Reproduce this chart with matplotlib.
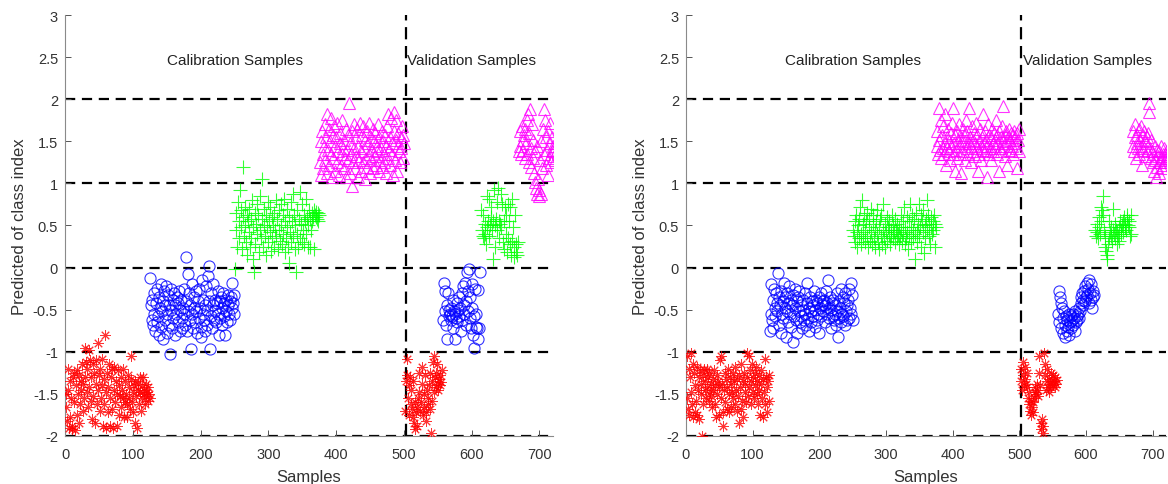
import numpy as np
import matplotlib
matplotlib.use("Agg")
import matplotlib.pyplot as plt

# ---------------- data ----------------
# Left panel, calibration (125 samples per class)
L_red_cal = [-1.65, -1.50, -1.82, -1.20, -1.45, -1.90, -1.35, -1.78, -1.55, -1.92,
             -1.88, -1.30, -1.60, -1.25, -1.93, -1.40, -1.75, -1.22, -1.50, -1.85,
             -1.28, -1.62, -1.35, -1.45, -1.15, -1.70, -1.38, -1.55, -0.95, -1.30,
             -1.12, -1.48, -1.20, -1.65, -0.98, -1.42, -1.10, -1.58, -1.30, -1.80,
             -1.15, -1.52, -1.25, -1.84, -1.38, -1.10, -1.62, -0.90, -1.45, -1.28,
             -1.70, -1.20, -1.55, -1.08, -1.40, -1.88, -1.32, -1.62, -0.80, -1.48,
             -1.90, -1.25, -1.72, -1.42, -1.15, -1.88, -1.55, -1.30, -1.68, -1.20,
             -1.90, -1.45, -1.18, -1.60, -1.35, -1.88, -1.50, -1.22, -1.75, -1.40,
             -1.52, -1.30, -1.65, -1.45, -1.55, -1.20, -1.78, -1.60, -1.35, -1.50,
             -1.62, -1.78, -1.28, -1.55, -1.42, -1.68, -1.32, -1.05, -1.60, -1.48,
             -1.72, -1.40, -1.35, -1.85, -1.52, -1.90, -1.45, -1.38, -1.62, -1.30,
             -1.48, -1.70, -1.40, -1.55, -1.30, -1.50, -1.45, -1.62, -1.38, -1.52,
             -1.48, -1.58, -1.42, -1.50, -1.55]
L_blue_cal = [-0.12, -0.45, -0.62, -0.38, -0.68, -0.30, -0.55, -0.75, -0.42, -0.65,
              -0.25, -0.58, -0.80, -0.35, -0.48, -0.70, -0.20, -0.52, -0.85, -0.40,
              -0.28, -0.62, -0.45, -0.22, -0.78, -0.55, -0.32, -0.68, -0.45, -1.03,
              -0.25, -0.50, -0.72, -0.38, -0.60, -0.30, -0.45, -0.80, -0.55, -0.35,
              -0.65, -0.42, -0.28, -0.75, -0.50, -0.38, -0.60, -0.72, -0.48, -0.25,
              -0.55, -0.68, 0.13, -0.40, -0.75, -0.08, -0.52, -0.30, -0.62, -0.45,
              -0.97, -0.20, -0.55, -0.72, -0.35, -0.48, -0.65, -0.28, -0.52, -0.78,
              -0.40, -0.60, -0.25, -0.48, -0.70, -0.82, -0.15, -0.55, -0.38, -0.62,
              -0.75, -0.45, -0.22, -0.68, -0.50, -0.10, 0.02, -0.40, -0.97, -0.58,
              -0.30, -0.72, -0.45, -0.20, -0.62, -0.38, -0.52, -0.65, -0.42, -0.28,
              -0.55, -0.80, -0.40, -0.60, -0.35, -0.68, -0.48, -0.30, -0.58, -0.42,
              -0.80, -0.38, -0.52, -0.65, -0.32, -0.45, -0.55, -0.40, -0.62, -0.35,
              -0.48, -0.18, -0.42, -0.32, -0.55]
L_green_cal = [-0.02, 0.45, 0.65, 0.25, 0.78, 0.35, 0.55, 0.92, 0.48, 0.68,
               0.22, 0.60, 1.20, 0.38, 0.72, 0.50, 0.30, 0.62, 0.15, 0.55,
               0.42, 0.70, 0.25, 0.58, 0.35, 0.80, 0.10, 0.48, -0.05, 0.65,
               0.28, 0.52, 0.75, 0.40, 0.62, 0.18, 0.45, 0.85, 0.35, 0.58,
               1.05, 0.25, 0.50, 0.70, 0.38, 0.62, 0.15, 0.48, 0.78, 0.30,
               0.55, 0.42, 0.72, 0.20, 0.60, 0.35, 0.50, 0.65, 0.25, 0.45,
               0.80, 0.38, 0.58, 0.22, 0.68, 0.45, 0.32, 0.75, 0.50, 0.28,
               0.62, 0.40, 0.82, 0.18, 0.55, 0.35, 0.70, 0.48, 0.25, 0.60,
               0.05, 0.42, 0.78, 0.30, 0.55, 0.88, 0.38, 0.62, 0.22, 0.50,
               -0.05, 0.40, 0.68, 0.25, 0.58, 0.90, 0.35, 0.52, 0.75, 0.30,
               0.45, 0.62, 0.28, 0.55, 0.82, 0.40, 0.60, 0.25, 0.50, 0.68,
               0.58, 0.25, 0.45, 0.65, 0.55, 0.60, 0.68, 0.22, 0.62, 0.66,
               0.60, 0.58, 0.65, 0.55, 0.63]
L_mag_cal = [1.25, 1.50, 1.10, 1.62, 1.35, 1.18, 1.45, 1.70, 1.28, 1.55,
             1.82, 1.12, 1.40, 1.65, 1.22, 1.50, 1.78, 1.35, 1.08, 1.58,
             1.30, 1.68, 1.45, 1.15, 1.55, 1.25, 1.72, 1.38, 1.10, 1.48,
             1.60, 1.22, 1.35, 1.75, 1.42, 1.18, 1.52, 1.30, 1.65, 1.08,
             1.40, 1.58, 1.28, 1.95, 1.12, 1.48, 1.35, 0.97, 1.62, 1.25,
             1.70, 1.42, 1.18, 1.55, 1.32, 1.65, 1.08, 1.45, 1.28, 1.72,
             1.38, 1.15, 1.58, 1.25, 1.68, 1.42, 1.05, 1.52, 1.30, 1.62,
             1.20, 1.48, 1.35, 1.72, 1.12, 1.55, 1.28, 1.40, 1.65, 1.18,
             1.50, 1.32, 1.60, 1.22, 1.45, 1.38, 1.70, 1.15, 1.55, 1.28,
             1.42, 1.62, 1.20, 1.50, 1.35, 1.25, 1.58, 1.45, 1.12, 1.68,
             1.30, 1.82, 1.40, 1.55, 1.22, 1.78, 1.48, 1.35, 1.10, 1.62,
             1.85, 1.28, 1.52, 1.75, 1.15, 1.45, 1.60, 1.38, 1.25, 1.55,
             1.42, 1.68, 1.30, 1.58, 1.48]
# Left panel, validation (55 samples per class)
L_red_val = [-1.70, -1.35, -1.28, -1.08, -1.55, -1.40, -1.75, -1.30, -1.62, -1.45,
             -1.68, -1.35, -1.78, -1.85, -1.60, -1.92, -1.72, -1.65, -1.88, -1.55,
             -1.48, -1.25, -1.70, -1.60, -1.38, -1.18, -1.75, -1.50, -1.65, -1.28,
             -1.72, -1.82, -1.45, -1.62, -1.55, -1.40, -1.68, -1.25, -1.97, -1.58,
             -1.35, -1.12, -1.48, -1.05, -1.30, -1.42, -1.25, -1.15, -1.38, -1.45,
             -1.32, -1.40, -1.28, -1.36, -1.22]
L_blue_val = [-0.62, -0.18, -0.52, -0.28, -0.68, -0.85, -0.45, -0.30, -0.58, -0.50,
              -0.55, -0.62, -0.48, -0.58, -0.38, -0.72, -0.52, -0.85, -0.55, -0.60,
              -0.42, -0.65, -0.50, -0.35, -0.58, -0.48, -0.75, -0.30, -0.62, -0.22,
              -0.45, -0.55, -0.18, -0.68, -0.40, -0.05, -0.52, -0.28, -0.02, -0.60,
              -0.35, -0.72, -0.48, -0.20, -0.80, -0.58, -0.95, -0.25, -0.70, -0.55,
              -0.72, -0.27, -0.85, -0.72, -0.05]
L_green_val = [0.68, 0.45, 0.38, 0.62, 0.35, 0.40, 0.52, 0.28, 0.85, 0.48,
               0.55, 0.82, 0.38, 0.50, 0.72, 0.60, 0.45, 0.10, 0.55, 0.92,
               0.50, 0.25, 0.58, 0.78, 0.45, 0.95, 0.55, 0.35, 0.52, 0.88,
               0.48, 0.75, 0.30, 0.55, 0.22, 0.72, 0.40, 0.62, 0.18, 0.75,
               0.35, 0.55, 0.28, 0.72, 0.15, 0.82, 0.32, 0.48, 0.25, 0.12,
               0.62, 0.28, 0.18, 0.15, 0.30]
L_mag_val = [1.38, 1.62, 1.45, 1.35, 1.68, 1.52, 1.40, 1.58, 1.30, 1.65,
             1.48, 1.75, 1.35, 1.82, 1.25, 1.60, 1.88, 1.42, 1.20, 1.70,
             1.30, 1.52, 1.12, 1.38, 1.02, 0.95, 1.45, 0.88, 1.05, 0.85,
             0.92, 1.28, 0.88, 1.50, 1.18, 1.65, 1.88, 1.35, 1.75, 1.22,
             1.55, 1.40, 1.10, 1.62, 1.30, 1.48, 1.72, 1.25, 1.38, 1.55,
             1.45, 1.32, 1.40, 1.28, 1.48]

# Right panel, calibration
R_red_cal = [-1.05, -1.55, -1.68, -1.20, -1.75, -1.30, -1.48, -1.02, -1.62, -1.15,
             -1.78, -1.25, -1.72, -1.40, -1.58, -1.18, -1.75, -1.45, -1.30, -1.80,
             -1.22, -1.50, -1.38, -2.00, -1.28, -1.62, -1.20, -1.45, -1.35, -1.55,
             -1.20, -1.42, -1.30, -1.58, -1.25, -1.48, -1.38, -1.52, -1.65, -1.32,
             -1.45, -1.22, -1.62, -1.40, -1.78, -1.28, -1.50, -1.35, -1.75, -1.42,
             -1.10, -1.55, -1.05, -1.38, -1.72, -1.88, -1.45, -1.25, -1.60, -1.32,
             -1.68, -1.42, -1.20, -1.72, -1.50, -1.30, -1.65, -1.38, -1.48, -1.25,
             -1.55, -1.35, -1.62, -1.18, -1.45, -1.70, -1.32, -1.52, -1.28, -1.85,
             -1.42, -1.68, -1.15, -1.58, -1.35, -1.78, -1.25, -1.48, -1.38, -1.60,
             -1.02, -1.30, -1.52, -1.05, -1.42, -1.22, -1.62, -1.35, -1.15, -1.48,
             -1.30, -1.55, -1.25, -1.40, -1.18, -1.50, -1.35, -1.62, -1.28, -1.45,
             -1.75, -1.38, -1.22, -1.55, -1.32, -1.78, -1.48, -1.08, -1.62, -1.30,
             -1.42, -1.72, -1.35, -1.58, -1.28]
R_blue_cal = [-0.75, -0.55, -0.20, -0.62, -0.38, -0.72, -0.25, -0.48, -0.58, -0.30,
              -0.42, -0.52, -0.07, -0.68, -0.35, -0.45, -0.78, -0.28, -0.55, -0.40,
              -0.60, -0.18, -0.48, -0.35, -0.82, -0.52, -0.30, -0.65, -0.42, -0.22,
              -0.55, -0.38, -0.70, -0.45, -0.88, -0.32, -0.58, -0.25, -0.48, -0.62,
              -0.40, -0.78, -0.35, -0.52, -0.28, -0.65, -0.45, -0.58, -0.72, -0.38,
              -0.50, -0.62, -0.30, -0.55, -0.68, -0.42, -0.18, -0.60, -0.48, -0.75,
              -0.35, -0.52, -0.65, -0.40, -0.58, -0.45, -0.28, -0.70, -0.50, -0.38,
              -0.62, -0.42, -0.55, -0.35, -0.78, -0.48, -0.30, -0.58, -0.45, -0.40,
              -0.52, -0.38, -0.65, -0.45, -0.28, -0.55, -0.42, -0.15, -0.60, -0.48,
              -0.35, -0.72, -0.50, -0.42, -0.58, -0.38, -0.62, -0.45, -0.55, -0.68,
              -0.30, -0.52, -0.82, -0.40, -0.60, -0.48, -0.25, -0.65, -0.55, -0.35,
              -0.58, -0.42, -0.68, -0.30, -0.52, -0.62, -0.45, -0.38, -0.60, -0.25,
              -0.48, -0.18, -0.55, -0.32, -0.62]
R_green_cal = [0.45, 0.38, 0.55, 0.30, 0.62, 0.42, 0.25, 0.50, 0.35, 0.58,
               0.72, 0.40, 0.28, 0.80, 0.52, 0.35, 0.62, 0.45, 0.30, 0.55,
               0.38, 0.65, 0.25, 0.48, 0.58, 0.32, 0.42, 0.70, 0.28, 0.52,
               0.62, 0.35, 0.45, 0.25, 0.55, 0.40, 0.68, 0.30, 0.48, 0.22,
               0.58, 0.38, 0.62, 0.28, 0.45, 0.75, 0.35, 0.52, 0.25, 0.42,
               0.60, 0.32, 0.48, 0.40, 0.55, 0.28, 0.45, 0.38, 0.62, 0.35,
               0.50, 0.42, 0.30, 0.58, 0.45, 0.35, 0.52, 0.40, 0.28, 0.48,
               0.38, 0.62, 0.45, 0.32, 0.55, 0.40, 0.72, 0.28, 0.48, 0.35,
               0.60, 0.42, 0.22, 0.55, 0.38, 0.75, 0.48, 0.30, 0.62, 0.45,
               0.35, 0.58, 0.40, 0.10, 0.65, 0.45, 0.30, 0.52, 0.75, 0.38,
               0.48, 0.62, 0.25, 0.55, 0.42, 0.68, 0.17, 0.50, 0.35, 0.58,
               0.80, 0.45, 0.62, 0.38, 0.52, 0.28, 0.48, 0.60, 0.40, 0.55,
               0.45, 0.62, 0.24, 0.52, 0.48]
R_mag_cal = [1.45, 1.62, 1.35, 1.90, 1.52, 1.40, 1.75, 1.30, 1.58, 1.42,
             1.68, 1.35, 1.48, 1.82, 1.22, 1.55, 1.42, 1.65, 1.38, 1.50,
             1.28, 1.60, 1.45, 1.72, 1.35, 1.90, 1.48, 1.58, 1.15, 1.40,
             1.62, 1.30, 1.52, 1.45, 1.70, 1.35, 1.55, 1.12, 1.48, 1.65,
             1.38, 1.58, 1.28, 1.50, 1.75, 1.42, 1.62, 1.35, 1.90, 1.48,
             1.55, 1.25, 1.45, 1.68, 1.38, 1.52, 1.60, 1.32, 1.48, 1.72,
             1.42, 1.58, 1.15, 1.50, 1.35, 1.65, 1.45, 1.28, 1.55, 1.40,
             1.82, 1.48, 1.62, 1.38, 1.52, 1.08, 1.45, 1.70, 1.35, 1.58,
             1.42, 1.55, 1.28, 1.65, 1.48, 1.38, 1.60, 1.52, 1.45, 1.75,
             1.35, 1.58, 1.48, 1.15, 1.62, 1.42, 1.55, 1.38, 1.68, 1.50,
             1.92, 1.45, 1.58, 1.32, 1.62, 1.48, 1.22, 1.55, 1.40, 1.65,
             1.52, 1.38, 1.60, 1.45, 1.58, 1.35, 1.62, 1.48, 1.55, 1.42,
             1.60, 1.18, 1.52, 1.65, 1.38]
# Right panel, validation
R_red_val = [-1.35, -1.20, -1.45, -1.28, -1.12, -1.40, -1.32, -1.18, -1.38, -1.25,
             -1.42, -1.55, -1.62, -1.48, -1.70, -1.58, -1.75, -1.65, -1.72, -1.60,
             -1.55, -1.48, -1.42, -1.50, -1.45, -1.38, -1.52, -1.25, -1.05, -1.40,
             -1.85, -1.92, -1.80, -1.97, -1.88, -1.02, -1.28, -1.15, -1.45, -1.35,
             -1.20, -1.42, -1.32, -1.48, -1.38, -1.25, -1.42, -1.35, -1.28, -1.40,
             -1.35, -1.30, -1.42, -1.38, -1.33]
R_blue_val = [-0.55, -0.28, -0.65, -0.35, -0.42, -0.72, -0.48, -0.60, -0.78, -0.52,
              -0.68, -0.82, -0.58, -0.75, -0.62, -0.70, -0.55, -0.80, -0.65, -0.58,
              -0.72, -0.62, -0.55, -0.68, -0.60, -0.75, -0.52, -0.65, -0.58, -0.62,
              -0.55, -0.48, -0.60, -0.52, -0.35, -0.42, -0.30, -0.38, -0.45, -0.28,
              -0.40, -0.22, -0.35, -0.18, -0.32, -0.25, -0.42, -0.15, -0.30, -0.38,
              -0.20, -0.48, -0.28, -0.35, -0.32]
R_green_val = [0.45, 0.38, 0.52, 0.42, 0.35, 0.60, 0.48, 0.40, 0.72, 0.55,
               0.68, 0.85, 0.62, 0.45, 0.38, 0.25, 0.20, 0.15, 0.10, 0.28,
               0.35, 0.55, 0.42, 0.48, 0.38, 0.32, 0.45, 0.70, 0.40, 0.52,
               0.35, 0.45, 0.28, 0.42, 0.38, 0.48, 0.32, 0.55, 0.40, 0.45,
               0.50, 0.42, 0.55, 0.60, 0.48, 0.52, 0.45, 0.58, 0.62, 0.50,
               0.55, 0.48, 0.38, 0.62, 0.40]
R_mag_val = [1.45, 1.62, 1.38, 1.55, 1.70, 1.30, 1.48, 1.58, 1.42, 1.65,
             1.35, 1.52, 1.68, 1.45, 1.22, 1.58, 1.40, 1.62, 1.50, 1.32,
             1.48, 1.55, 1.38, 1.60, 1.95, 1.85, 1.42, 1.30, 1.52, 1.38,
             1.25, 1.35, 1.15, 1.45, 1.28, 1.08, 1.40, 1.20, 1.32, 1.12,
             1.38, 1.25, 1.45, 1.30, 1.18, 1.35, 1.22, 1.42, 1.28, 1.35,
             1.30, 1.40, 1.25, 1.38, 1.32]

cal_per_class = 125
val_per_class = 56
val_start = 502
class_bounds = [-2, -1, 0, 1, 2]
split_sample = 503
x_ticks = [0, 100, 200, 300, 400, 500, 600, 700]
y_ticks = [-2, -1.5, -1, -0.5, 0, 0.5, 1, 1.5, 2, 2.5, 3]
y_ticklabels = ['-2', '-1.5', '-1', '-0.5', '0', '0.5', '1', '1.5', '2', '2.5', '3']

# ---------------- styling ----------------
plt.rcParams['font.family'] = ['Liberation Sans', 'DejaVu Sans']

styles = [
    dict(marker=(8, 2, 0), color='#ff0000', ms=7.5, mew=0.7),
    dict(marker='o', color='#0000ff', ms=8, mew=0.8),
    dict(marker='+', color='#00ff00', ms=9.5, mew=0.8),
    dict(marker='^', color='#ff00ff', ms=9, mew=0.8),
]

fig = plt.figure(figsize=(11.68, 4.85), dpi=100)
ax_left = fig.add_axes([65 / 1168, 0.099, 488 / 1168, 0.868])
ax_right = fig.add_axes([686 / 1168, 0.099, 480 / 1168, 0.868])

panels = [
    (ax_left, [L_red_cal, L_blue_cal, L_green_cal, L_mag_cal],
     [L_red_val, L_blue_val, L_green_val, L_mag_val]),
    (ax_right, [R_red_cal, R_blue_cal, R_green_cal, R_mag_cal],
     [R_red_val, R_blue_val, R_green_val, R_mag_val]),
]

for ax, cals, vals in panels:
    # reference lines
    for yb in class_bounds:
        ax.plot([0, 720], [yb, yb], color='black', lw=1.6,
                dashes=(4.6, 3.0), zorder=1, solid_capstyle='butt')
    ax.plot([split_sample, split_sample], [-2, 3], color='black', lw=1.6,
            dashes=(5.5, 3.0), zorder=1)
    for k in range(4):
        st = styles[k]
        yc = np.asarray(cals[k])
        xc = 1 + cal_per_class * k + np.arange(len(yc))
        yv = np.asarray(vals[k])
        xv = val_start + val_per_class * k + np.arange(len(yv))
        for xs, ys in ((xc, yc), (xv, yv)):
            ax.plot(xs, ys, linestyle='none', marker=st['marker'],
                    markersize=st['ms'], markeredgewidth=st['mew'],
                    markeredgecolor=st['color'], markerfacecolor='none',
                    alpha=0.8, zorder=3)
    ax.set_xlim(0, 720)
    ax.set_ylim(-2, 3)
    ax.set_xticks(x_ticks)
    ax.set_yticks(y_ticks)
    ax.set_yticklabels(y_ticklabels)
    for s in ('top', 'right'):
        ax.spines[s].set_visible(False)
    for s in ('left', 'bottom'):
        ax.spines[s].set_color('#8a8a8a')
        ax.spines[s].set_linewidth(0.8)
    ax.tick_params(direction='in', length=4, width=0.7, color='#555555',
                   labelsize=10.5, labelcolor='#333333')
    ax.tick_params(axis='x', pad=8)
    ax.tick_params(axis='y', pad=5)
    ax.set_xlabel('Samples', fontsize=12, color='#333333', labelpad=6)
    ax.set_ylabel('Predicted of class index', fontsize=12, color='#333333',
                  labelpad=4)
    ax.text(251, 2.46, 'Calibration Samples', ha='center', va='center',
            fontsize=11, color='#222222')
    ax.text(505, 2.46, 'Validation Samples', ha='left', va='center',
            fontsize=11, color='#222222')
    ax.patch.set_visible(False)

fig.savefig('out.png', dpi=100)
